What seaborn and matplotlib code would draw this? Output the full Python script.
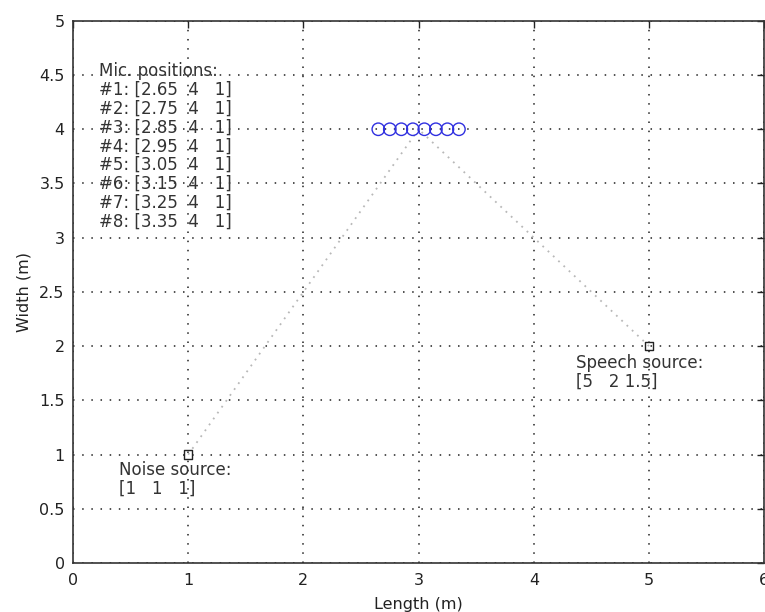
import matplotlib
matplotlib.use("Agg")
import matplotlib.pyplot as plt
import seaborn as sns
import pandas as pd
import numpy as np

# Data
mic_x = [2.65, 2.75, 2.85, 2.95, 3.05, 3.15, 3.25, 3.35]
mic_y = [4, 4, 4, 4, 4, 4, 4, 4]
mic_z = [1, 1, 1, 1, 1, 1, 1, 1]
noise_pos = [1, 1, 1]
speech_pos = [5, 2, 1.5]
array_center = [3, 4]
x_ticks = [0, 1, 2, 3, 4, 5, 6]
y_ticks = [0, 0.5, 1, 1.5, 2, 2.5, 3, 3.5, 4, 4.5, 5]

sns.set_style("white")
plt.rcParams['font.family'] = ['DejaVu Sans']

fig = plt.figure(figsize=(7.65, 6.12), dpi=100)
ax = fig.add_axes([0.0954, 0.080, 0.9036, 0.886])

ax.set_xlim(0, 6)
ax.set_ylim(0, 5)
ax.set_xticks(x_ticks)
ax.set_yticks(y_ticks)
ax.set_xticklabels([f"{v:g}" for v in x_ticks])
ax.set_yticklabels([f"{v:g}" for v in y_ticks])
ax.grid(True, color='#222222', linestyle=(0, (1, 5)), linewidth=1.1)
ax.set_axisbelow(True)

# dotted lines source -> array
lines = pd.DataFrame({
    'x': [noise_pos[0], array_center[0], speech_pos[0], array_center[0]],
    'y': [noise_pos[1], array_center[1], speech_pos[1], array_center[1]],
    'g': ['noise', 'noise', 'speech', 'speech'],
})
sns.lineplot(data=lines, x='x', y='y', units='g', estimator=None, sort=False,
             color='#b8b8b8', linestyle=(0, (1, 3)), linewidth=1.3, ax=ax, legend=False)

# mic circles
mics = pd.DataFrame({'x': mic_x, 'y': mic_y})
sns.scatterplot(data=mics, x='x', y='y', marker='o', s=80, facecolor='none',
                edgecolor='#3030e0', linewidth=1.0, ax=ax, zorder=5)

# source squares
src = pd.DataFrame({'x': [noise_pos[0], speech_pos[0]], 'y': [noise_pos[1], speech_pos[1]]})
sns.scatterplot(data=src, x='x', y='y', marker='s', s=36, facecolor='none',
                edgecolor='#222222', linewidth=1.0, ax=ax, zorder=5)

fs = 12
mic_lines = ["Mic. positions:"] + [
    f"#{i+1}: [{x:.2f}  {y:g}   {z:g}]" for i, (x, y, z) in enumerate(zip(mic_x, mic_y, mic_z))
]
ax.text(0.23, 4.62, "\n".join(mic_lines), fontsize=fs, va='top', ha='left',
        color='#333333', linespacing=1.06)
ax.text(0.40, 0.94, "Noise source:\n[%g   %g   %g]" % tuple(noise_pos), fontsize=fs,
        va='top', ha='left', color='#333333', linespacing=1.06)
ax.text(4.37, 1.93, "Speech source:\n[%g   %g %g]" % tuple(speech_pos), fontsize=fs,
        va='top', ha='left', color='#333333', linespacing=1.06)

ax.set_xlabel("Length (m)", fontsize=11.5, color='#222222')
ax.set_ylabel("Width (m)", fontsize=11.5, color='#222222')
ax.xaxis.set_label_coords(0.5, -0.063)
ax.yaxis.set_label_coords(-0.060, 0.5)
ax.tick_params(direction='in', length=5, labelsize=11.5, color='#222222', width=1,
               top=True, right=True, pad=7, labelcolor='#222222')
ax.tick_params(axis='y', pad=6)
for s in ax.spines.values():
    s.set_visible(True)
    s.set_color('#333333')
    s.set_linewidth(1.2)

fig.savefig("out.png", dpi=100)
